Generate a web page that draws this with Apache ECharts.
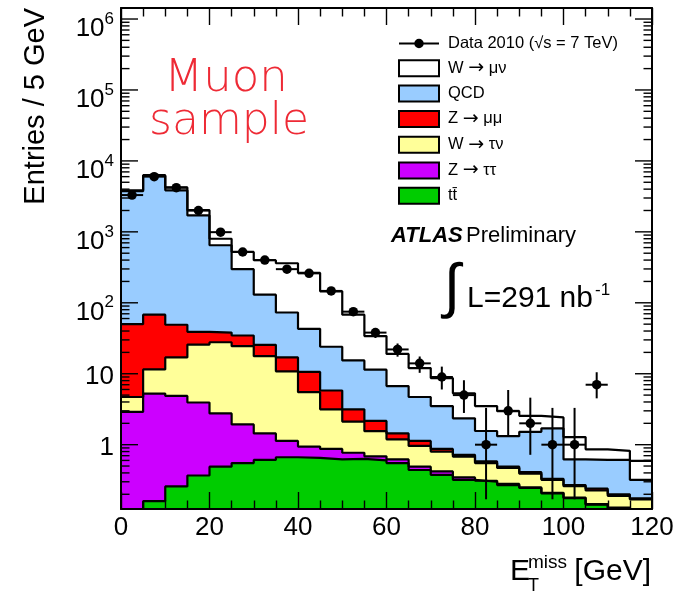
<!DOCTYPE html>
<html>
<head>
<meta charset="utf-8">
<script src="https://cdn.jsdelivr.net/npm/echarts@6/dist/echarts.min.js"></script>
<style>
  html, body { margin: 0; padding: 0; background: #fff; }
  #chart { width: 679px; height: 592px; }
</style>
</head>
<body>
<div id="chart"></div>
<script>
// E_T^miss bins, 5 GeV wide, lower edges
var binLow = [0, 5, 10, 15, 20, 25, 30, 35, 40, 45, 50, 55, 60, 65, 70, 75, 80, 85, 90, 95, 100, 105, 110, 115];

// stacked MC, top of each layer (already includes all layers below it)
var topWmunu   = [3850, 6300, 4230, 2020, 800, 521, 398, 361, 264, 145, 68, 34, 19, 12, 8.7, 5.3, 3.5, 2.97, 2.55, 2.42, 1.28, 0.86, 0.82, 0.59];
var topQCD     = [3750, 6150, 3855, 1703, 647, 298, 130, 73, 43, 24, 15.4, 11.4, 6.7, 4.7, 3.5, 2.35, 1.56, 1.32, 1.52, 1.7, 0.62, 0.61, 0.61, 0.32];
var topZmumu   = [50, 68, 49, 39, 38, 34.6, 25.6, 17, 10.6, 5.8, 3.15, 2.16, 1.44, 1.13, 0.87, 0.72, 0.58, 0.49, 0.41, 0.33, 0.27, 0.24, 0.2, 0.175];
var topWtaunu  = [4.7, 11.5, 17, 25.8, 27.8, 24.5, 17.7, 10.8, 5.5, 3.15, 2.12, 1.55, 1.19, 0.96, 0.8, 0.68, 0.55, 0.47, 0.39, 0.32, 0.26, 0.226, 0.19, 0.17];
var topZtautau = [2.9, 5.25, 4.87, 3.93, 2.76, 1.93, 1.44, 1.13, 0.94, 0.87, 0.77, 0.685, 0.62, 0.49, 0.42, 0.345, 0.31, 0.28, 0.25, 0.21, 0.18, 0.145, 0.13, 0.1];
var topTtbar   = [0.1, 0.16, 0.258, 0.368, 0.49, 0.55, 0.61, 0.665, 0.65, 0.62, 0.63, 0.6, 0.55, 0.44, 0.376, 0.32, 0.3, 0.27, 0.245, 0.205, 0.177, 0.143, 0.128, 0.1];

// data 2010, with error bar ends (0 = empty bin)
var dataCounts = [3300, 6000, 4200, 2000, 990, 520, 400, 298, 260, 147, 75, 38, 22, 14, 9, 5, 1, 3, 2, 1, 1, 7, 0, 0];
var dataLow    = [3243, 5923, 4135, 1955, 959, 497, 380, 281, 244, 135, 66.4, 31.9, 17.4, 10.3, 6.0, 2.8, 0.17, 1.37, 0.72, 0.17, 0.17, 4.5, 0, 0];
var dataHigh   = [3357, 6077, 4265, 2045, 1021, 543, 420, 315, 276, 159, 83.7, 44.2, 26.7, 17.5, 12.6, 8.1, 3.3, 5.9, 4.6, 3.3, 3.3, 10.5, 0, 0];

var binWidth = 5;
var xMin = 0, xMax = 120;
var yMin = 0.124, yMax = 1.43e6;

var FONT = '"Liberation Sans", Arial, Helvetica, sans-serif';

var layers = [
  { name: 'W \u2192 \u03bc\u03bd', color: '#ffffff', vals: topWmunu },
  { name: 'QCD', color: '#99ccff', vals: topQCD },
  { name: 'Z \u2192 \u03bc\u03bc', color: '#ff0000', vals: topZmumu },
  { name: 'W \u2192 \u03c4\u03bd', color: '#ffff99', vals: topWtaunu },
  { name: 'Z \u2192 \u03c4\u03c4', color: '#cc00ff', vals: topZtautau },
  { name: 't\u0074\u0304', color: '#00cc00', vals: topTtbar }
];
var dataName = 'Data 2010 (\u221as = 7 TeV)';

function stepPoints(vals) {
  var pts = [];
  for (var i = 0; i < binLow.length; i++) pts.push([binLow[i], vals[i]]);
  pts.push([binLow[binLow.length - 1] + binWidth, vals[vals.length - 1]]);
  return pts;
}

// log-axis tick positions (decades long, 2..9 short)
var yTicks = [];
for (var e = -1; e <= 6; e++) {
  for (var m = 1; m <= 9; m++) {
    var v = m * Math.pow(10, e);
    if (v >= yMin && v <= yMax) yTicks.push([0, v, m === 1 ? 1 : 0]);
  }
}

var pts = [], bars = [];
for (var i = 0; i < dataCounts.length; i++) {
  if (dataCounts[i] > 0) {
    pts.push([binLow[i] + binWidth / 2, dataCounts[i]]);
    bars.push([binLow[i] + binWidth / 2, dataCounts[i], dataLow[i], dataHigh[i]]);
  }
}

var series = layers.map(function (l) {
  return {
    name: l.name, type: 'line', step: 'end',
    data: stepPoints(l.vals),
    showSymbol: false, symbol: 'none', clip: true,
    color: l.color,
    itemStyle: { color: l.color },
    lineStyle: { color: '#000', width: 2.2 },
    areaStyle: { color: l.color, opacity: 1, origin: 'start' },
    silent: true, z: 2
  };
});

series.push({
  type: 'custom', silent: true, z: 5, clip: true,
  data: bars,
  renderItem: function (params, api) {
    var x = api.value(0), v = api.value(1);
    var c = api.coord([x, v]);
    var l = api.coord([x - binWidth / 2, v]);
    var r = api.coord([x + binWidth / 2, v]);
    var lo = api.coord([x, api.value(2)]);
    var hi = api.coord([x, api.value(3)]);
    var st = { stroke: '#000', lineWidth: 2 };
    return { type: 'group', children: [
      { type: 'line', shape: { x1: l[0], y1: c[1], x2: r[0], y2: c[1] }, style: st },
      { type: 'line', shape: { x1: c[0], y1: lo[1], x2: c[0], y2: hi[1] }, style: st }
    ] };
  }
});

series.push({
  name: dataName, type: 'scatter', data: pts,
  symbol: 'circle', symbolSize: 9.5, color: '#000',
  itemStyle: { color: '#000', opacity: 1 }, silent: true, z: 6
});

// y ticks drawn on left and right frame edges
series.push({
  type: 'custom', silent: true, z: 10, clip: false,
  data: yTicks,
  encode: { x: 0, y: 1 },
  renderItem: function (params, api) {
    var v = api.value(1);
    var p = api.coord([xMin, v]);
    var q = api.coord([xMax, v]);
    var len = api.value(2) ? 17 : 8.5;
    var st = { stroke: '#000', lineWidth: 1.4 };
    return { type: 'group', children: [
      { type: 'line', shape: { x1: p[0], y1: p[1], x2: p[0] + len, y2: p[1] }, style: st },
      { type: 'line', shape: { x1: q[0] - len, y1: q[1], x2: q[0], y2: q[1] }, style: st }
    ] };
  }
});

var legendData = [{
  name: dataName,
  icon: 'path://M0,4L42,4L42,6L0,6Z M21,0A5,5,0,1,1,21,10A5,5,0,1,1,21,0Z',
  itemStyle: { color: '#000', borderWidth: 0, opacity: 1 }
}];
layers.forEach(function (l) {
  legendData.push({ name: l.name, icon: 'rect',
    itemStyle: { color: l.color, borderColor: '#000', borderWidth: 2 } });
});

function yLabel(v) {
  var e = Math.log10(v), r = Math.round(e);
  if (Math.abs(e - r) > 1e-6) return '';
  if (r >= 2) return '{s| }{b|10}{e|' + r + '}';
  if (r === 1) return '{s2| }{n|10}';
  if (r === 0) return '{s2| }{n|1}';
  return '';
}

var frameAxis = { show: true, onZero: false, lineStyle: { color: '#000', width: 2 } };

var option = {
  animation: false,
  backgroundColor: '#fff',
  grid: { left: 121, top: 8, right: 27, bottom: 83, outerBoundsMode: 'none', containLabel: false },
  legend: {
    left: 398, top: 35, orient: 'vertical',
    itemWidth: 40, itemHeight: 16, itemGap: 6.8, padding: 0,
    selectedMode: false,
    formatter: function (name) { return name.replace('\u2192', '{a|\u2192}'); },
    textStyle: {
      fontSize: 16.5, fontFamily: FONT, color: '#000', lineHeight: 16, padding: [0, 0, 0, 4],
      rich: { a: { fontSize: 19, fontFamily: '"DejaVu Sans", sans-serif', color: '#000', lineHeight: 16 } }
    },
    data: legendData
  },
  xAxis: [{
    type: 'value', min: xMin, max: xMax, interval: 20, position: 'bottom', z: 10,
    axisLine: frameAxis,
    axisTick: { show: true, inside: true, length: 17, lineStyle: { color: '#000', width: 1.4 } },
    minorTick: { show: true, splitNumber: 4, length: 8.5, lineStyle: { color: '#000', width: 1.4 } },
    splitLine: { show: false },
    axisLabel: { fontSize: 26, fontFamily: FONT, color: '#000', margin: 6, lineHeight: 26 }
  }, {
    type: 'value', min: xMin, max: xMax, interval: 20, position: 'top', z: 10,
    axisLine: frameAxis,
    axisTick: { show: true, inside: true, length: 17, lineStyle: { color: '#000', width: 1.4 } },
    minorTick: { show: true, splitNumber: 4, length: 8.5, lineStyle: { color: '#000', width: 1.4 } },
    splitLine: { show: false },
    axisLabel: { show: false }
  }],
  yAxis: [{
    type: 'log', logBase: 10, min: yMin, max: yMax, position: 'left', z: 10,
    axisLine: frameAxis,
    axisTick: { show: false },
    splitLine: { show: false },
    axisLabel: {
      showMinLabel: false, showMaxLabel: false, margin: 7,
      formatter: yLabel, color: '#000',
      rich: {
        s: { fontSize: 1, lineHeight: 46 },
        s2: { fontSize: 1, lineHeight: 32 },
        b: { fontSize: 26, fontFamily: FONT, color: '#000', lineHeight: 26, verticalAlign: 'bottom' },
        e: { fontSize: 17, fontFamily: FONT, color: '#000', lineHeight: 17, verticalAlign: 'middle' },
        n: { fontSize: 26, fontFamily: FONT, color: '#000', lineHeight: 26, verticalAlign: 'bottom' }
      }
    }
  }, {
    type: 'log', logBase: 10, min: yMin, max: yMax, position: 'right', z: 10,
    axisLine: frameAxis,
    axisTick: { show: false },
    splitLine: { show: false },
    axisLabel: { show: false }
  }],
  graphic: [
    { type: 'text', x: 226, y: 79, z: 20, style: { text: 'Muon', fontSize: 45, fontWeight: 200, fontFamily: '"DejaVu Sans", sans-serif', fill: '#ee2a35', align: 'center', verticalAlign: 'middle' } },
    { type: 'text', x: 229, y: 123, z: 20, style: { text: 'sample', fontSize: 44, fontWeight: 200, fontFamily: '"DejaVu Sans", sans-serif', fill: '#ee2a35', align: 'center', verticalAlign: 'middle' } },
    { type: 'text', x: 391, y: 236, z: 20, style: {
      text: '{a|ATLAS} {p|Preliminary}', verticalAlign: 'middle', align: 'left',
      rich: {
        a: { fontSize: 22, fontWeight: 'bold', fontStyle: 'italic', fontFamily: FONT, fill: '#000' },
        p: { fontSize: 22, fontFamily: FONT, fill: '#000' }
      } } },
    { type: 'text', x: 452, y: 289, z: 20, style: { text: '\u222b', fontSize: 60, fontFamily: FONT, fill: '#000', align: 'center', verticalAlign: 'middle' } },
    { type: 'text', x: 467, y: 299, z: 20, style: { text: 'L=291 nb', fontSize: 30, fontFamily: FONT, fill: '#000', align: 'left', verticalAlign: 'middle' } },
    { type: 'text', x: 595, y: 290, z: 20, style: { text: '-1', fontSize: 17, fontFamily: FONT, fill: '#000', align: 'left', verticalAlign: 'middle' } },
    { type: 'text', x: 36, y: 8, rotation: Math.PI / 2, z: 20, style: { text: 'Entries / 5 GeV', fontSize: 29, fontFamily: FONT, fill: '#000', align: 'right', verticalAlign: 'middle' } },
    { type: 'text', x: 510, y: 572, z: 20, style: { text: 'E', fontSize: 30, fontFamily: FONT, fill: '#000', align: 'left', verticalAlign: 'middle' } },
    { type: 'text', x: 528, y: 563, z: 20, style: { text: 'miss', fontSize: 19, fontFamily: FONT, fill: '#000', align: 'left', verticalAlign: 'middle' } },
    { type: 'text', x: 528, y: 586, z: 20, style: { text: 'T', fontSize: 18, fontFamily: FONT, fill: '#000', align: 'left', verticalAlign: 'middle' } },
    { type: 'text', x: 651, y: 572, z: 20, style: { text: '[GeV]', fontSize: 30, fontFamily: FONT, fill: '#000', align: 'right', verticalAlign: 'middle' } }
  ],
  series: series
};

var chart = echarts.init(document.getElementById('chart'));
chart.setOption(option);
</script>
</body>
</html>
